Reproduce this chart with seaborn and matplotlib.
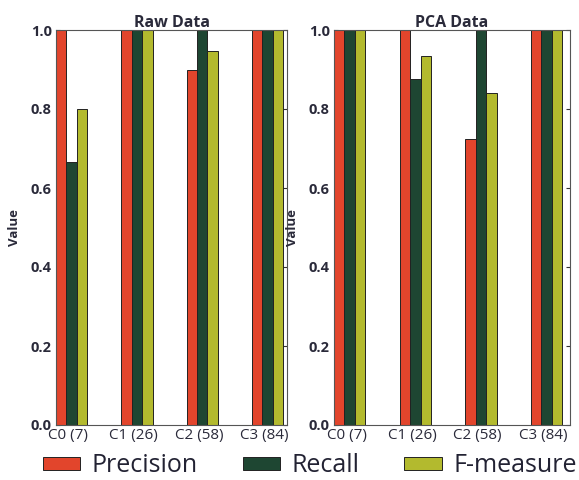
import matplotlib
matplotlib.use("Agg")
import matplotlib.pyplot as plt
import seaborn as sns
import pandas as pd
from matplotlib.patches import Patch

categories = ["C0 (7)", "C1 (26)", "C2 (58)", "C3 (84)"]
metrics = ["Precision", "Recall", "F-measure"]
raw_precision = [1.0, 1.0, 0.9, 1.0]
raw_recall = [0.667, 1.0, 1.0, 1.0]
raw_fmeasure = [0.8, 1.0, 0.947, 1.0]
pca_precision = [1.0, 1.0, 0.724, 1.0]
pca_recall = [1.0, 0.875, 1.0, 1.0]
pca_fmeasure = [1.0, 0.933, 0.84, 1.0]
yticks = [0.0, 0.2, 0.4, 0.6, 0.8, 1.0]
colors = ["#E2452C", "#1E4632", "#B3BA2E"]

def make_df(p, r, f):
    rows = []
    for m, vals in zip(metrics, [p, r, f]):
        for c, v in zip(categories, vals):
            rows.append({"Cluster": c, "Metric": m, "Value": v})
    return pd.DataFrame(rows)

sns.set_style("white")
plt.rcParams["font.family"] = ["Open Sans", "DejaVu Sans"]

fig = plt.figure(figsize=(5.79, 4.8), dpi=100)
ax1 = fig.add_axes([56/579, 55/480, 231/579, 395/480])
ax2 = fig.add_axes([334/579, 55/480, 236/579, 395/480])

panels = [(ax1, "Raw Data", make_df(raw_precision, raw_recall, raw_fmeasure)),
          (ax2, "PCA Data", make_df(pca_precision, pca_recall, pca_fmeasure))]

txtc = "#2a2a3a"
for ax, title, df in panels:
    sns.barplot(data=df, x="Cluster", y="Value", hue="Metric", order=categories,
                hue_order=metrics, palette=colors, width=0.48, ax=ax,
                edgecolor="#222222", linewidth=0.7, legend=False, saturation=1)
    ax.set_ylim(0, 1.0)
    ax.set_xlim(-0.24, 3.3 if ax is ax1 else 3.36)
    ax.set_yticks(yticks)
    ax.set_yticklabels([f"{t:.1f}" for t in yticks], fontsize=10.5, fontweight="bold",
                       color=txtc)
    ax.set_xticks([i - 0.05 for i in range(len(categories))])
    ax.set_xticklabels(categories, fontsize=11, color=txtc)
    ax.tick_params(axis="y", direction="in", length=3, left=True, right=True,
                   width=0.8, color="#333333", pad=3)
    ax.tick_params(axis="x", length=0, pad=2)
    ax.set_xlabel("")
    ax.set_ylabel("Value", fontsize=9.5, fontweight="bold", color=txtc, labelpad=7)
    ax.set_title(title, fontsize=11.5, fontweight="bold", color=txtc, pad=2)
    for s in ax.spines.values():
        s.set_visible(True)
        s.set_color("#555555")
        s.set_linewidth(0.8)

handles = [Patch(facecolor=c, edgecolor="#222222", linewidth=0.7) for c in colors]
fig.legend(handles, metrics, loc="center", bbox_to_anchor=(0.535, 14/480), ncol=3,
           frameon=False, fontsize=18, handlelength=1.5, handleheight=0.45,
           columnspacing=1.8, handletextpad=0.45, labelcolor="#222233",
           borderpad=0, borderaxespad=0)

fig.savefig("out.png", dpi=100)
